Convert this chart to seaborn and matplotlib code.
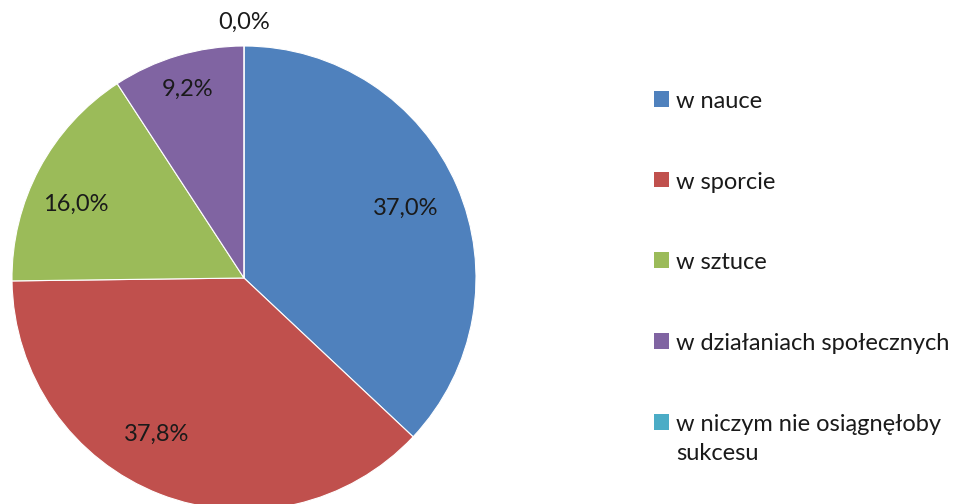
import numpy as np
import seaborn as sns
import matplotlib.pyplot as plt
from matplotlib.patches import Patch

sns.set_theme(style="white")
plt.rcParams['font.family'] = ['Lato', 'DejaVu Sans']

# data
categories = ["w nauce", "w sporcie", "w sztuce", "w działaniach społecznych",
              "w niczym nie osiągnęłoby\nsukcesu"]
shares = [37.0, 37.8, 16.0, 9.2, 0.0]
pct_labels = ["37,0%", "37,8%", "16,0%", "9,2%", "0,0%"]
colors = ["#4F81BD", "#C0504D", "#9BBB59", "#8064A2", "#4BACC6"]

fig = plt.figure(figsize=(9.64, 5.04), dpi=100)
ax = fig.add_axes([12 / 964, -6 / 504, 464 / 964, 464 / 504])

wedges, _ = ax.pie(shares, colors=colors, startangle=90, counterclock=False,
                   radius=1, wedgeprops=dict(edgecolor="white", linewidth=0.8))
ax.set_xlim(-1, 1)
ax.set_ylim(-1, 1)
ax.set_aspect("equal")

# percent labels near the middle angle of each wedge (small nudges as in the original)
dists = [0.76, 0.77, 0.79, 0.85, 1.10]
nudge = [0, -8, 4.5, 0, 0]
for w, lab, d, n in zip(wedges, pct_labels, dists, nudge):
    ang = np.deg2rad((w.theta1 + w.theta2) / 2 + n)
    ax.text(d * np.cos(ang), d * np.sin(ang), lab, ha="center", va="center",
            fontsize=17, color="#1a1a1a", clip_on=False)

handles = [Patch(facecolor=c, edgecolor="none") for c in colors]
leg = fig.legend(handles, categories, loc="upper left",
                 bbox_to_anchor=(642 / 964, 1 - 79 / 504), frameon=False,
                 fontsize=17, labelspacing=2.53, handlelength=0.65,
                 handleheight=0.65, handletextpad=0.3, borderpad=0)
for t in leg.get_texts():
    t.set_color("#1a1a1a")
    t.set_linespacing(1.5)
# keep the square level with the first text line
for col in leg._legend_handle_box.get_children():
    for row in col.get_children():
        row.align = "top"

fig.savefig("out.png", dpi=100)
